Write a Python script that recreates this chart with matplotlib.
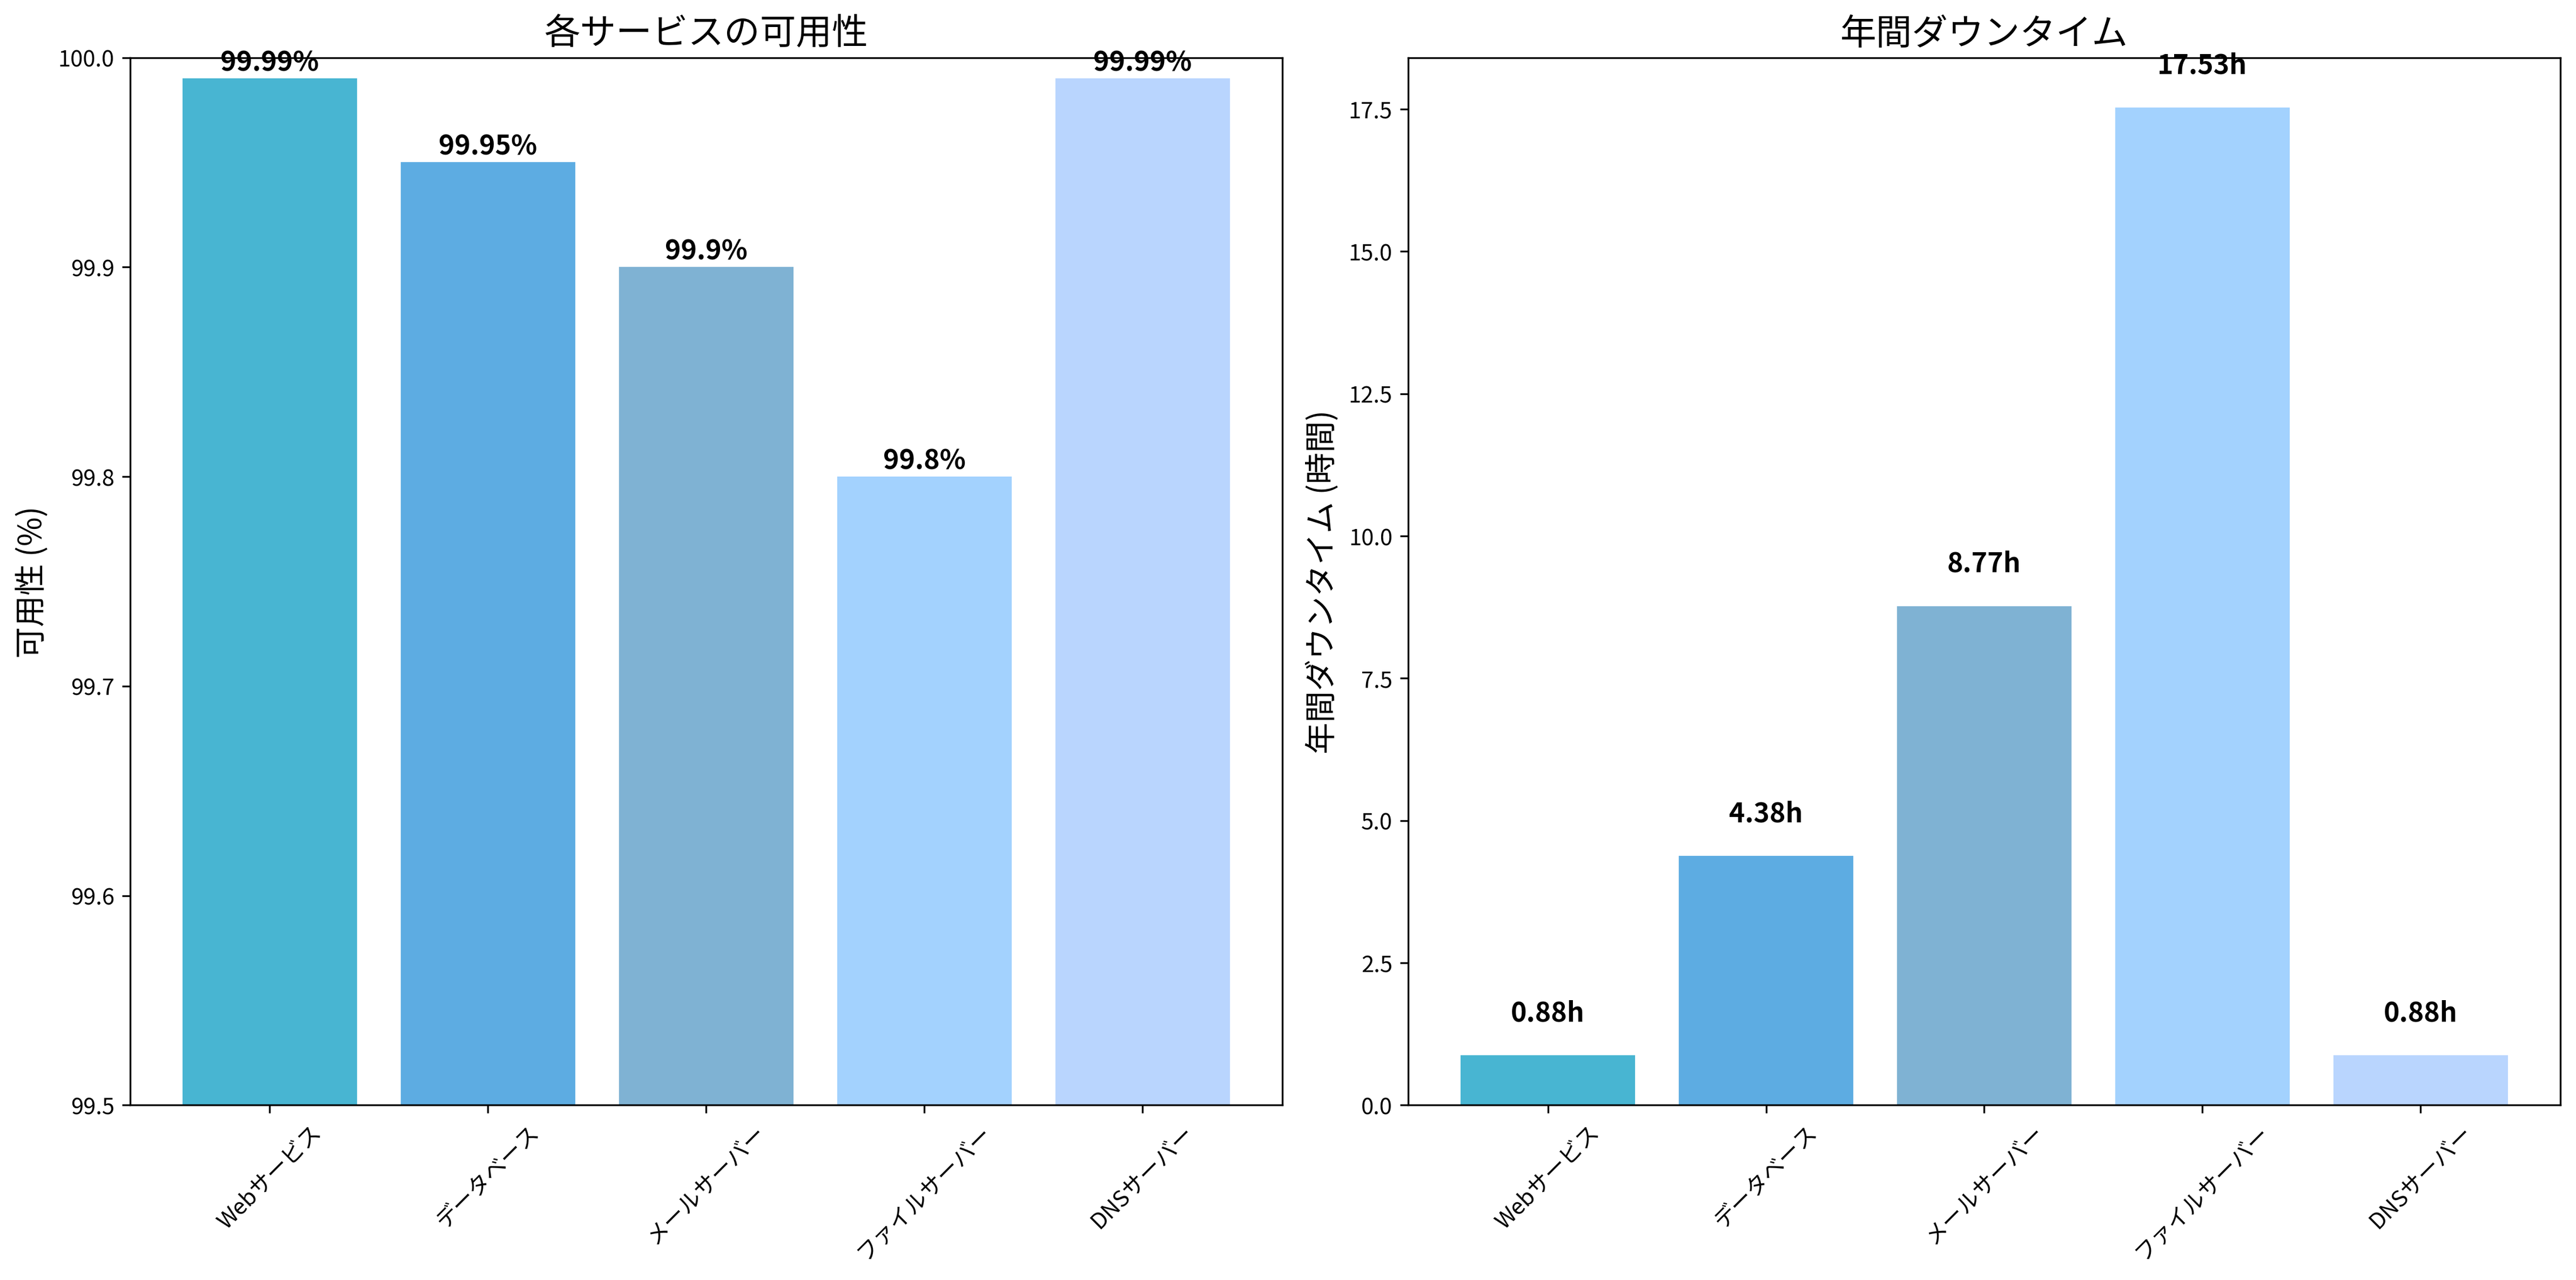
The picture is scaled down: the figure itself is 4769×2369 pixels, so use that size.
import matplotlib
matplotlib.use("Agg")
import matplotlib.pyplot as plt

plt.rcParams['font.family'] = ['Noto Sans CJK JP', 'DejaVu Sans']

services = ['Webサービス', 'データベース', 'メールサーバー', 'ファイルサーバー', 'DNSサーバー']
availability = [99.99, 99.95, 99.9, 99.8, 99.99]
downtime = [0.88, 4.38, 8.77, 17.53, 0.88]
colors = ['#48B5D2', '#5DACE2', '#7FB2D3', '#A3D2FE', '#B9D5FE']

fig, (ax1, ax2) = plt.subplots(1, 2, figsize=(16, 8), dpi=300)

ax1.bar(services, availability, color=colors)
ax1.set_ylim(99.5, 100.0)
ax1.set_title('各サービスの可用性', fontsize=16)
ax1.set_ylabel('可用性 (%)', fontsize=14)
for i, v in enumerate(availability):
    ax1.text(i, v + 0.001, f'{v}%', ha='center', va='bottom', fontsize=12, fontweight='bold')
ax1.tick_params(axis='x', rotation=45)

ax2.bar(services, downtime, color=colors)
ax2.set_title('年間ダウンタイム', fontsize=16)
ax2.set_ylabel('年間ダウンタイム (時間)', fontsize=14)
for i, v in enumerate(downtime):
    ax2.text(i, v + 0.5, f'{v}h', ha='center', va='bottom', fontsize=12, fontweight='bold')
ax2.tick_params(axis='x', rotation=45)

plt.tight_layout()
plt.savefig('out.png', dpi=300, bbox_inches='tight')
